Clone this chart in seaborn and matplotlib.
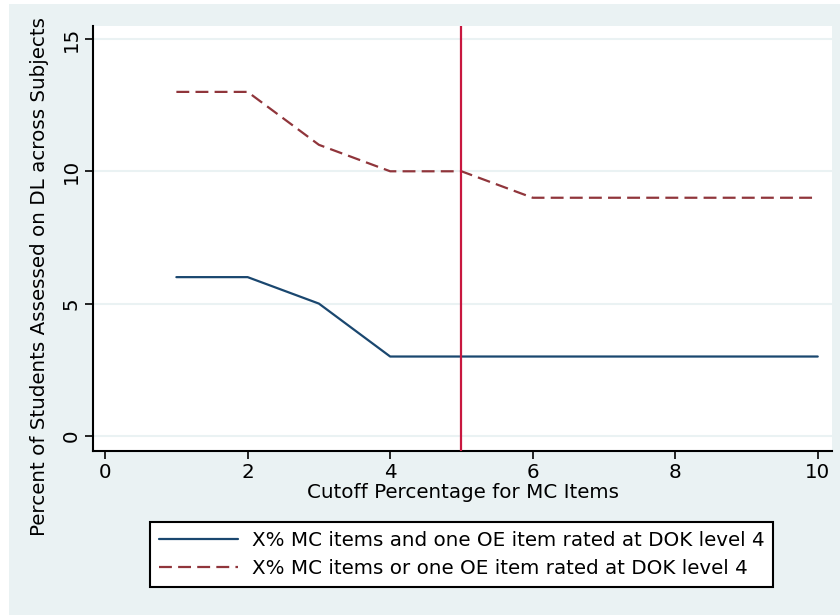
import matplotlib
matplotlib.use("Agg")
import matplotlib.pyplot as plt
import seaborn as sns
import pandas as pd
from matplotlib.patches import Rectangle

# Data
cutoff = [1, 2, 3, 4, 5, 6, 7, 8, 9, 10]
and_vals = [6, 6, 5, 3, 3, 3, 3, 3, 3, 3]
or_vals = [13, 13, 11, 10, 10, 9, 9, 9, 9, 9]
label_and = "X% MC items and one OE item rated at DOK level 4"
label_or = "X% MC items or one OE item rated at DOK level 4"
x_ticks = [0, 2, 4, 6, 8, 10]
y_ticks = [0, 5, 10, 15]
ref_x = 5

BG = "#eaf2f3"
FS = 14.3
sns.set_theme(style="white")
plt.rcParams['font.family'] = ['DejaVu Sans']

fig = plt.figure(figsize=(8.4, 6.15), dpi=100)
fig.patch.set_facecolor("white")
fig.add_artist(Rectangle((9/840, 0), 1 - 9/840, 1 - 4/615, transform=fig.transFigure,
                         facecolor=BG, edgecolor="none", zorder=-10))

ax = fig.add_axes([93/840, 1 - 451/615, (832 - 93)/840, (451 - 26)/615])
ax.set_facecolor("white")

df_and = pd.DataFrame({"x": cutoff, "y": and_vals})
df_or = pd.DataFrame({"x": cutoff, "y": or_vals})

for yt in y_ticks:
    ax.axhline(yt, color=BG, lw=1.5, zorder=0)

sns.lineplot(data=df_and, x="x", y="y", ax=ax, color="#1a476f", lw=1.6, label=label_and)
sns.lineplot(data=df_or, x="x", y="y", ax=ax, color="#90353b", lw=1.6,
             dashes=False, label=label_or)
ax.lines[-1].set_dashes([5.8, 2.8])
ax.axvline(ref_x, color="#c8173f", lw=1.6, zorder=3)

ax.set_xlim(-0.17, 10.2)
ax.set_ylim(-0.57, 15.49)
ax.set_xticks(x_ticks)
ax.set_yticks(y_ticks)
ax.tick_params(axis="both", direction="out", length=6, width=1.2, color="black",
               labelsize=FS, labelcolor="black", pad=3, left=True, bottom=True)
for lab in ax.get_yticklabels():
    lab.set_rotation(90)
    lab.set_va("center")

for s in ["top", "right"]:
    ax.spines[s].set_visible(False)
for s in ["left", "bottom"]:
    ax.spines[s].set_color("black")
    ax.spines[s].set_linewidth(1.5)

ax.set_xlabel("Cutoff Percentage for MC Items", fontsize=FS, color="black", labelpad=0)
ax.set_ylabel("Percent of Students Assessed on DL across Subjects", fontsize=FS, color="black")
ax.xaxis.set_label_coords((463 - 93) / (832 - 93), (451 - 493) / (451 - 26))
ax.yaxis.set_label_coords((40 - 93) / (832 - 93), (451 - 276) / (451 - 26))
ax.xaxis.label.set_va("center")
ax.yaxis.label.set_va("center")

leg = ax.legend(loc="center", bbox_to_anchor=(461.5/840, 1 - 554.5/615),
                bbox_transform=fig.transFigure, frameon=True, fancybox=False,
                edgecolor="black", facecolor="white", fontsize=FS,
                handlelength=4.0, handletextpad=0.7, borderpad=0.45,
                labelspacing=0.45, framealpha=1)
leg.get_frame().set_linewidth(1.5)
for t in leg.get_texts():
    t.set_color("black")

fig.savefig("out.png", dpi=100, facecolor=fig.get_facecolor())
